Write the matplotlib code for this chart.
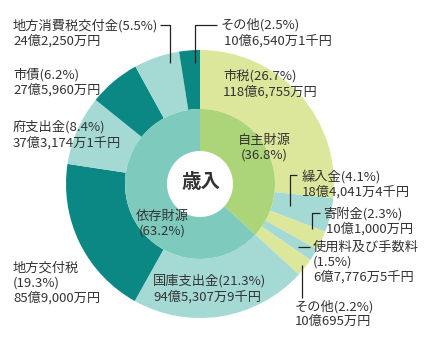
import matplotlib
matplotlib.use("Agg")
import matplotlib.pyplot as plt

plt.rcParams["font.family"] = ["Noto Sans CJK JP", "DejaVu Sans"]

W, H = 438, 355

# inner ring: 自主財源 / 依存財源
inner_names = ["自主財源", "依存財源"]
inner_share = [36.8, 63.2]

# outer ring, clockwise from 12 o'clock
outer_names = ["市税", "繰入金", "寄附金", "使用料及び手数料", "その他",
               "国庫支出金", "地方交付税", "府支出金", "市債", "地方消費税交付金", "その他"]
outer_share = [26.7, 4.1, 2.3, 1.5, 2.2,
               21.3, 19.3, 8.4, 6.2, 5.5, 2.5]
outer_amount = ["118億6,755万円", "18億4,041万4千円", "10億1,000万円", "6億7,776万5千円",
                "10億695万円", "94億5,307万9千円", "85億9,000万円", "37億3,174万1千円",
                "27億5,960万円", "24億2,250万円", "10億6,540万1千円"]

YG, LT, DT = "#dde79b", "#a5dad4", "#0b8784"
outer_colors = [YG, LT, YG, LT, YG, LT, DT, LT, DT, LT, DT]
inner_colors = ["#acd478", "#7ecbbe"]
TXT = "#333333"

fig = plt.figure(figsize=(W / 100, H / 100), dpi=100)
ax = fig.add_axes([0, 0, 1, 1])

cx, cy = 200, H - 184
r_out, r_mid, r_hole = 134, 75, 33

ax.pie(outer_share, radius=r_out, center=(cx, cy), startangle=90, counterclock=False,
       colors=outer_colors, wedgeprops=dict(width=r_out - r_mid, edgecolor="none", linewidth=0))
ax.pie(inner_share, radius=r_mid, center=(cx, cy), startangle=90, counterclock=False,
       colors=inner_colors, wedgeprops=dict(width=r_mid - r_hole, edgecolor="none", linewidth=0))

ax.set_xlim(0, W)
ax.set_ylim(0, H)
ax.set_aspect("equal")
ax.axis("off")


def lab(x, y, s, ha="left", size=9.5, **kw):
    ax.text(x, H - y, s, ha=ha, va="center", fontsize=size, color=TXT, linespacing=1.2, **kw)


def leader(xs, ys):
    ax.plot(xs, [H - y for y in ys], color="#222222", lw=0.9, solid_capstyle="butt")


def pct(i):
    return f"{outer_names[i]}({outer_share[i]}%)"


# centre
lab(201, 183, "歳入", ha="center", size=14, fontweight="bold")
lab(264, 148, f"{inner_names[0]}\n({inner_share[0]}%)", ha="center")
lab(162, 224, f"{inner_names[1]}\n({inner_share[1]}%)", ha="center")

# outer labels
lab(223, 84, pct(0) + "\n" + outer_amount[0])
lab(302, 184, pct(1) + "\n" + outer_amount[1])
lab(323, 221, pct(2) + "\n " + outer_amount[2])
lab(313, 262, f"{outer_names[3]}\n({outer_share[3]}%)\n{outer_amount[3]}")
lab(295, 314, pct(4) + "\n" + outer_amount[4])
lab(153, 289, pct(5) + "\n" + outer_amount[5])
lab(13, 283, f"{outer_names[6]}\n({outer_share[6]}%)\n{outer_amount[6]}")
lab(13, 135, pct(7) + "\n" + outer_amount[7])
lab(13, 82, pct(8) + "\n" + outer_amount[8])
lab(13, 33, pct(9) + "\n" + outer_amount[9])
lab(221, 33, pct(10) + "\n " + outer_amount[10])

# leader lines
leader([160, 170, 170], [25, 25, 63])
leader([217, 195, 195], [25, 25, 63])
leader([297, 290, 290], [175, 175, 206])
leader([320, 312, 312], [213, 213, 229])
leader([298, 310], [247, 247])
leader([302, 302], [265, 298])

fig.savefig("out.png", dpi=100, facecolor="white")
